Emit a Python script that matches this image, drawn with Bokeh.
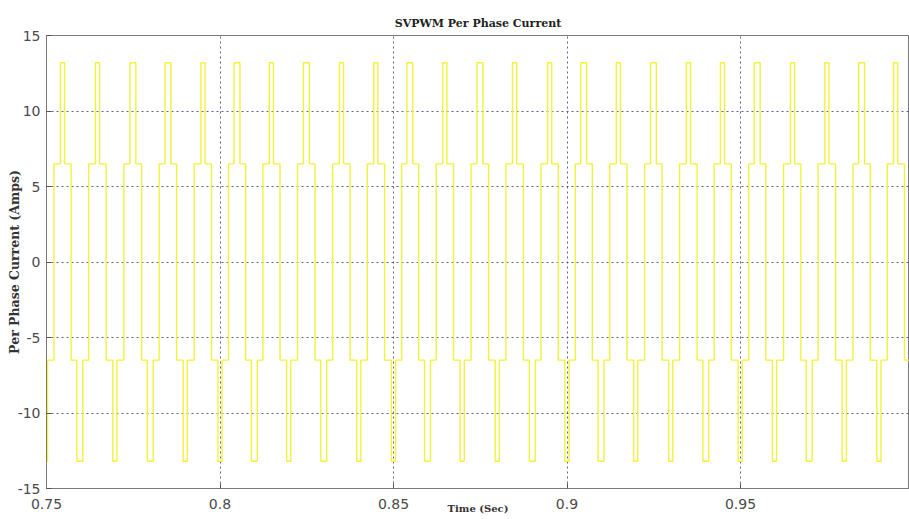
from bokeh.plotting import figure
from bokeh.models import Range1d, FixedTicker, ColumnDataSource
from bokeh.embed import file_html
from bokeh.resources import INLINE

# ---- data ----
title_text = "SVPWM Per Phase Current"
x_label = "Time (Sec)"
y_label = "Per Phase Current (Amps)"
x_ticks = [0.75, 0.8, 0.85, 0.9, 0.95, 1.0]
x_tick_labels = ["0.75", "0.8", "0.85", "0.9", "0.95", "1"]
y_ticks = [-15, -10, -5, 0, 5, 10, 15]
y_tick_labels = ["-15", "-10", "-5", "0", "5", "10", "15"]

high_level = 13.2   # peak of the narrow pulses (A)
mid_level = 6.5     # plateau level (A)

# centres of the positive (+13.2 A) pulses (s)
pos_pulse_time = [0.7546, 0.7647, 0.7749, 0.7850, 0.7951, 0.8049, 0.8148, 0.8249,
                  0.8350, 0.8449, 0.8547, 0.8648, 0.8749, 0.8849, 0.8950, 0.9048,
                  0.9148, 0.9249, 0.9350, 0.9448, 0.9548, 0.9650, 0.9749, 0.9849,
                  0.9947]
pos_pulse_width = [0.0012, 0.0012, 0.0017, 0.0017, 0.0012, 0.0017, 0.0012, 0.0017,
                   0.0012, 0.0012, 0.0017, 0.0012, 0.0017, 0.0012, 0.0012, 0.0017,
                   0.0012, 0.0017, 0.0012, 0.0012, 0.0017, 0.0012, 0.0012, 0.0017,
                   0.0012]
# centres of the negative (-13.2 A) pulses (s)
neg_pulse_time = [0.7497, 0.7596, 0.7697, 0.7799, 0.7900, 0.8000, 0.8099, 0.8198,
                  0.8299, 0.8400, 0.8500, 0.8598, 0.8698, 0.8799, 0.8900, 0.9000,
                  0.9098, 0.9198, 0.9299, 0.9400, 0.9499, 0.9598, 0.9698, 0.9799,
                  0.9899, 0.9998]
neg_pulse_width = [0.0012, 0.0017, 0.0012, 0.0017, 0.0012, 0.0012, 0.0017, 0.0012,
                   0.0017, 0.0012, 0.0012, 0.0017, 0.0012, 0.0012, 0.0017, 0.0012,
                   0.0017, 0.0012, 0.0012, 0.0017, 0.0012, 0.0012, 0.0017, 0.0012,
                   0.0012, 0.0012]

# ---- build the step waveform from the pulse list ----
events = [(t, 1, w) for t, w in zip(pos_pulse_time, pos_pulse_width)] + \
         [(t, -1, w) for t, w in zip(neg_pulse_time, neg_pulse_width)]
events.sort()
xs, ys = [], []
n = len(events)
for i, (c, s, w) in enumerate(events):
    lt = (events[i - 1][0] + c) / 2 if i > 0 else c - 0.0025
    rt = (c + events[i + 1][0]) / 2 if i < n - 1 else c + 0.0025
    xs += [lt, c - w / 2, c - w / 2, c + w / 2, c + w / 2, rt]
    ys += [s * mid_level, s * mid_level, s * high_level, s * high_level,
           s * mid_level, s * mid_level]
src = ColumnDataSource(dict(t=xs, i=ys))

# ---- figure ----
p = figure(width=909, height=519, output_backend="svg", toolbar_location=None,
           x_range=Range1d(0.75, 0.9987), y_range=Range1d(-15, 15),
           min_border_left=46, min_border_right=0, min_border_top=35,
           min_border_bottom=31, background_fill_color="white",
           border_fill_color="white")
p.title.text = title_text
p.title.align = "center"
p.title.text_font = "DejaVu Serif"
p.title.text_font_style = "bold"
p.title.text_font_size = "11px"
p.title.text_color = "#222222"
p.title.standoff = 11

p.line("t", "i", source=src, line_color="#f2f23c", line_width=1.4)

for ax in (p.xaxis[0], p.yaxis[0]):
    ax.major_label_text_font = "DejaVu Sans"
    ax.major_label_text_font_size = "14px"
    ax.major_label_text_color = "#4a4a4a"
    ax.axis_line_color = "#7a7a7a"
    ax.major_tick_line_color = "#555555"
    ax.major_tick_in = 5
    ax.major_tick_out = 0
    ax.minor_tick_line_color = None
    ax.axis_label_text_font = "DejaVu Serif"
    ax.axis_label_text_font_style = "bold"
    ax.axis_label_text_color = "#333333"
p.xaxis[0].axis_label_text_font_size = "10px"
p.yaxis[0].axis_label_text_font_size = "12.5px"
p.xaxis[0].ticker = FixedTicker(ticks=x_ticks)
p.yaxis[0].ticker = FixedTicker(ticks=y_ticks)
p.xaxis[0].major_label_overrides = dict(zip(x_ticks, x_tick_labels))
p.yaxis[0].major_label_overrides = dict(zip(y_ticks, y_tick_labels))
p.xaxis[0].major_label_standoff = 10
p.yaxis[0].major_label_standoff = 6
p.xaxis[0].axis_label = x_label
p.yaxis[0].axis_label = y_label
p.xaxis[0].axis_label_standoff = -9
p.yaxis[0].axis_label_standoff = -7

for g in (p.xgrid[0], p.ygrid[0]):
    g.grid_line_color = "#45457a"
    g.grid_line_dash = "2 3"
    g.grid_line_width = 1
    g.grid_line_alpha = 0.85
p.xgrid[0].ticker = FixedTicker(ticks=x_ticks)
p.ygrid[0].ticker = FixedTicker(ticks=y_ticks)
p.outline_line_color = "#7a7a7a"

open("out.html", "w").write(file_html(p, INLINE))
